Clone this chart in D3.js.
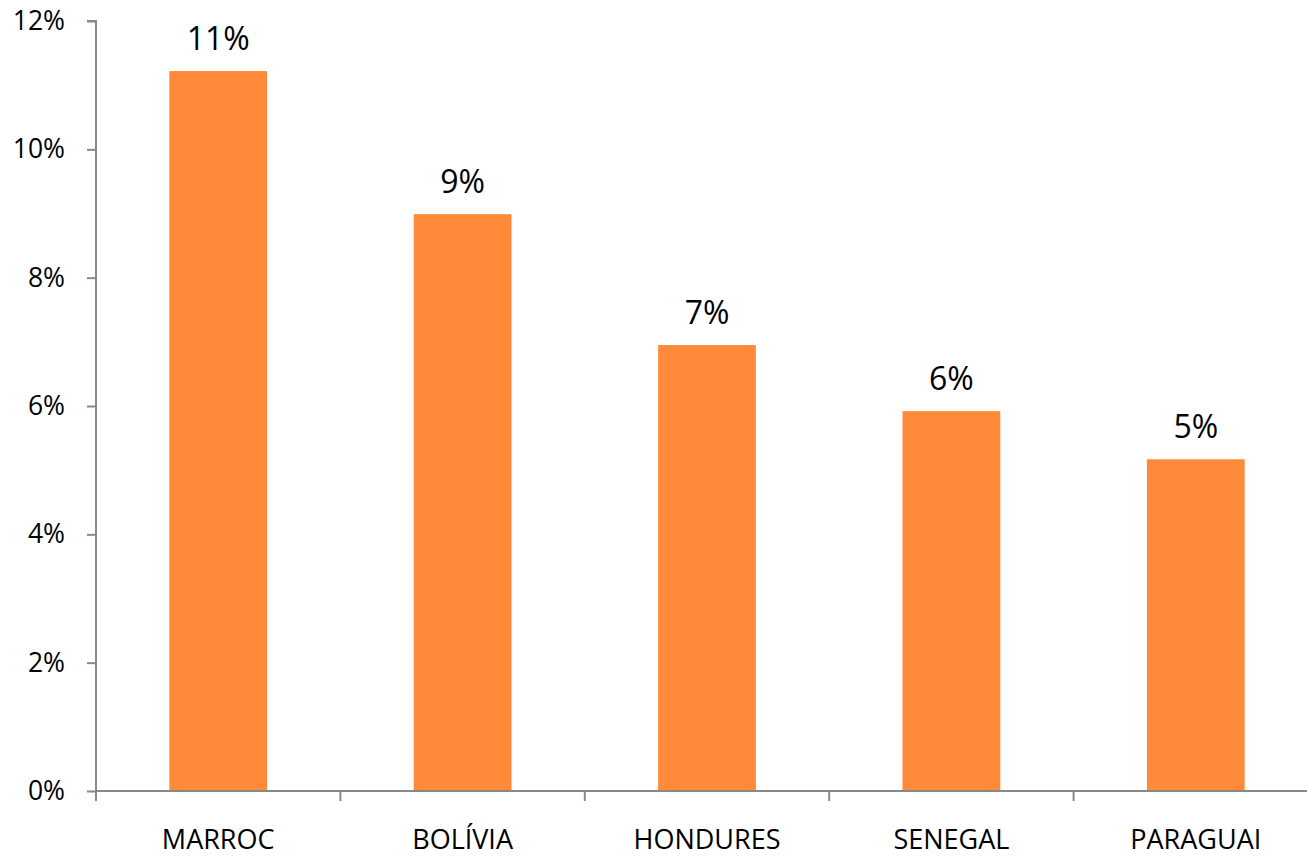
<!DOCTYPE html>
<html>
<head>
<meta charset="utf-8">
<script src="https://cdn.jsdelivr.net/npm/d3@7"></script>
<style>
  html, body { margin: 0; padding: 0; background: #fff; overflow: hidden; }
  svg { display: block; }
  svg text { font-family: "Open Sans", "Liberation Sans", sans-serif; fill: #000; }
</style>
</head>
<body>
<svg id="chart" width="1307" height="856"></svg>
<script>
// data
var countries = ["MARROC", "BOLÍVIA", "HONDURES", "SENEGAL", "PARAGUAI"];
var shares = [0.1122, 0.0899, 0.0695, 0.0592, 0.0517];
var shareLabels = ["11%", "9%", "7%", "6%", "5%"];
var yTicks = [0, 0.02, 0.04, 0.06, 0.08, 0.10, 0.12];

var svg = d3.select("#chart");

// plot box ("top" is reserved on window, so use plotTop)
var plotLeft = 96, plotRight = 1318, plotTop = 21, plotBottom = 791;
var axisColor = "#898989";
var barColor = "#FF8A3A";

var x = d3.scaleBand().domain(countries).range([plotLeft, plotRight]).paddingInner(0.6).paddingOuter(0.3);
var y = d3.scaleLinear().domain([0, 0.12]).range([plotBottom, plotTop]);

// bars
svg.selectAll("rect.bar")
  .data(countries)
  .enter().append("rect")
  .attr("class", "bar")
  .attr("x", function (d) { return x(d); })
  .attr("width", x.bandwidth())
  .attr("y", function (d, i) { return y(shares[i]); })
  .attr("height", function (d, i) { return plotBottom - y(shares[i]); })
  .attr("fill", barColor);

// value labels
svg.selectAll("text.val")
  .data(countries)
  .enter().append("text")
  .attr("class", "val")
  .attr("x", function (d) { return x(d) + x.bandwidth() / 2; })
  .attr("y", function (d, i) { return y(shares[i]) - 21; })
  .attr("text-anchor", "middle")
  .style("font-size", "32px")
  .text(function (d, i) { return shareLabels[i]; });

// y axis
var yAxis = svg.append("g")
  .attr("transform", "translate(" + plotLeft + ",0)")
  .call(d3.axisLeft(y).tickValues(yTicks).tickFormat(d3.format(".0%")).tickSize(9).tickPadding(22));
yAxis.select(".domain").attr("stroke", axisColor).attr("stroke-width", 2).attr("d", "M-9," + plotTop + "H0V" + plotBottom);
yAxis.selectAll(".tick line").attr("stroke", axisColor).attr("stroke-width", 2);
yAxis.selectAll(".tick text").style("font-size", "26.5px");

// x axis, ticks at band edges
var step = x.step();
var edges = d3.range(countries.length + 1).map(function (i) { return plotLeft + i * step; });
svg.append("line")
  .attr("x1", plotLeft).attr("x2", 1307)
  .attr("y1", plotBottom).attr("y2", plotBottom)
  .attr("stroke", axisColor).attr("stroke-width", 2);
svg.selectAll("line.xtick")
  .data(edges)
  .enter().append("line")
  .attr("class", "xtick")
  .attr("x1", function (d) { return d; }).attr("x2", function (d) { return d; })
  .attr("y1", plotBottom).attr("y2", plotBottom + 10)
  .attr("stroke", axisColor).attr("stroke-width", 2);

svg.selectAll("text.cat")
  .data(countries)
  .enter().append("text")
  .attr("class", "cat")
  .attr("x", function (d) { return x(d) + x.bandwidth() / 2; })
  .attr("y", 849)
  .attr("text-anchor", "middle")
  .style("font-size", "27px")
  .text(function (d) { return d; });
</script>
</body>
</html>
